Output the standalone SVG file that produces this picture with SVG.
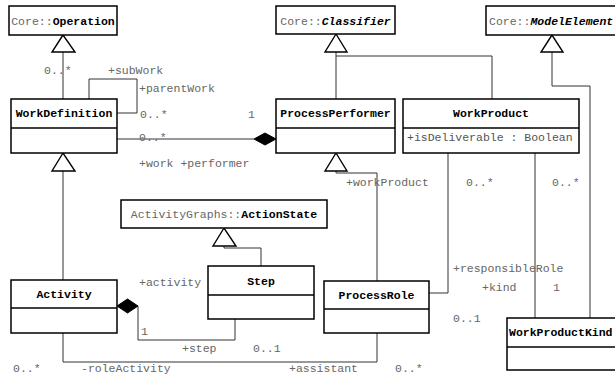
<svg xmlns="http://www.w3.org/2000/svg" width="615" height="375" viewBox="0 0 615 375">
  <style>
    .box { fill: #fff; stroke: #000; stroke-width: 1.5; }
    .div { stroke: #000; stroke-width: 1.5; }
    .edge { fill: none; stroke: #333; stroke-width: 1; }
    .tri { fill: #fff; stroke: #000; stroke-width: 1.4; }
    .dia { fill: #000; stroke: #000; stroke-width: 1; }
    text { font-family: "Liberation Mono", "Courier New", monospace; font-size: 11.5px; }
    .title { font-weight: bold; fill: #000; text-anchor: middle; }
    .pkg { font-weight: normal; fill: #666; }
    .lbl { fill: #666; }
    .attr { fill: #555; }
  </style>
  <rect width="615" height="375" fill="#fff"/>

  <g id="connectors">
    <!-- generalizations -->
    <polyline class="edge" points="63,52 63,99"/>
    <polyline class="edge" points="336,52 336,99"/>
    <polyline class="edge" points="336,56 492,56 492,99"/>
    <polyline class="edge" points="552,52 552,86 590,86 590,318"/>
    <polyline class="edge" points="63,171 63,280"/>
    <polyline class="edge" points="336,171 336,173 377,173 377,281"/>
    <polyline class="edge" points="224,246 224,248 261,248 261,266"/>
    <!-- associations -->
    <polyline class="edge" points="89,99 89,79 137,79 137,113 117,113"/>
    <polyline class="edge" points="117,139 254,139"/>
    <polyline class="edge" points="138,306 138,340 235,340 235,319"/>
    <polyline class="edge" points="63,333 63,362 377,362 377,333"/>
    <polyline class="edge" points="448,153 448,293 429,293"/>
    <polyline class="edge" points="535,153 535,318"/>
    <!-- inheritance heads -->
    <polygon class="tri" points="63,35 52,52 75,52"/>
    <polygon class="tri" points="336,34 325,52 347,52"/>
    <polygon class="tri" points="552,35 541,52 563,52"/>
    <polygon class="tri" points="63,153 52,171 75,171"/>
    <polygon class="tri" points="336,153 325,171 347,171"/>
    <polygon class="tri" points="224,228 213,246 236,246"/>
    <!-- composition diamonds -->
    <polygon class="dia" points="276,139 265,133 254,139 265,145"/>
    <polygon class="dia" points="117,306 127.5,299 138,306 127.5,313"/>
  </g>

  <g id="labels">
    <text class="lbl" x="44" y="74">0..*</text>
    <text class="lbl" x="108" y="74">+subWork</text>
    <text class="lbl" x="139" y="92">+parentWork</text>
    <text class="lbl" x="140" y="118">0..*</text>
    <text class="lbl" x="248" y="118">1</text>
    <text class="lbl" x="139" y="141">0..*</text>
    <text class="lbl" x="139" y="167">+work +performer</text>
    <text class="lbl" x="346" y="186">+workProduct</text>
    <text class="lbl" x="466" y="186">0..*</text>
    <text class="lbl" x="552" y="186">0..*</text>
    <text class="lbl" x="453" y="272">+responsibleRole</text>
    <text class="lbl" x="482" y="291">+kind</text>
    <text class="lbl" x="553" y="291">1</text>
    <text class="lbl" x="453" y="322">0..1</text>
    <text class="lbl" x="139" y="286">+activity</text>
    <text class="lbl" x="141" y="335">1</text>
    <text class="lbl" x="182" y="352">+step</text>
    <text class="lbl" x="253" y="352">0..1</text>
    <text class="lbl" x="13" y="372">0..*</text>
    <text class="lbl" x="81" y="372">-roleActivity</text>
    <text class="lbl" x="289" y="372">+assistant</text>
    <text class="lbl" x="395" y="372">0..*</text>
  </g>

  <g id="core-operation">
    <rect class="box" x="9" y="6" width="108" height="29"/>
    <text class="title" x="63" y="25"><tspan class="pkg">Core::</tspan>Operation</text>
  </g>

  <g id="core-classifier">
    <rect class="box" x="276" y="6" width="119" height="28"/>
    <text class="title" x="335.5" y="25"><tspan class="pkg">Core::</tspan><tspan font-style="italic">Classifier</tspan></text>
  </g>

  <g id="core-modelelement">
    <rect class="box" x="486" y="6" width="140" height="29"/>
    <text class="title" x="489" y="25" text-anchor="start" style="text-anchor:start"><tspan class="pkg">Core::</tspan><tspan font-style="italic">ModelElement</tspan></text>
  </g>

  <g id="work-definition">
    <rect class="box" x="11" y="99" width="106" height="54"/>
    <line class="div" x1="11" y1="128" x2="117" y2="128"/>
    <text class="title" x="64" y="117">WorkDefinition</text>
  </g>

  <g id="process-performer">
    <rect class="box" x="276" y="99" width="119" height="54"/>
    <line class="div" x1="276" y1="128" x2="395" y2="128"/>
    <text class="title" x="335.5" y="117">ProcessPerformer</text>
  </g>

  <g id="work-product">
    <rect class="box" x="403" y="99" width="176" height="54"/>
    <line class="div" x1="403" y1="128" x2="579" y2="128"/>
    <text class="title" x="491" y="117">WorkProduct</text>
    <text class="attr" x="407" y="141">+isDeliverable : Boolean</text>
  </g>

  <g id="action-state">
    <rect class="box" x="121" y="200" width="206" height="28"/>
    <text class="title" x="224" y="218"><tspan class="pkg">ActivityGraphs::</tspan>ActionState</text>
  </g>

  <g id="activity">
    <rect class="box" x="11" y="280" width="106" height="53"/>
    <line class="div" x1="11" y1="308" x2="117" y2="308"/>
    <text class="title" x="64" y="298">Activity</text>
  </g>

  <g id="step">
    <rect class="box" x="208" y="266" width="106" height="53"/>
    <line class="div" x1="208" y1="295" x2="314" y2="295"/>
    <text class="title" x="261" y="285">Step</text>
  </g>

  <g id="process-role">
    <rect class="box" x="324" y="281" width="105" height="52"/>
    <line class="div" x1="324" y1="309" x2="429" y2="309"/>
    <text class="title" x="376.5" y="299">ProcessRole</text>
  </g>

  <g id="work-product-kind">
    <rect class="box" x="507" y="318" width="120" height="52"/>
    <line class="div" x1="507" y1="347" x2="627" y2="347"/>
    <text class="title" x="509" y="336" style="text-anchor:start">WorkProductKind</text>
  </g>
</svg>
